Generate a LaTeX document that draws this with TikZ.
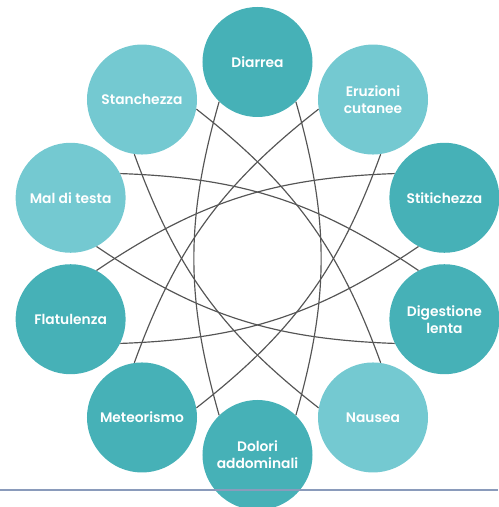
\documentclass[tikz,border=0pt]{standalone}
\usepackage{fontspec}
\setmainfont{Poppins}[UprightFont={* SemiBold}]

\definecolor{tealdark}{HTML}{46B1B7}
\definecolor{teallight}{HTML}{74C9D1}
\definecolor{arcgray}{HTML}{555555}
\definecolor{rulegray}{HTML}{8A9BBB}

\begin{document}
\begin{tikzpicture}[x=0.03cm,y=0.03cm,
        symptom/.style={circle, minimum size=3.3cm, inner sep=0pt, text=white, align=center,
            font=\fontsize{11.8}{14.5}\selectfont},
        dark/.style={symptom, fill=tealdark},
        light/.style={symptom, fill=teallight},
        lens/.style={draw=arcgray, line width=1pt}]
    \useasboundingbox (-257.5,-248.5) rectangle (240.5,258.5);

    % ten symptoms on a ring
    \node (diarrea) [dark] at (90:196.5) {Diarrea};
    \node (eruzioni) [light] at (54:196.5) {Eruzioni\\cutanee};
    \node (stitichezza) [dark] at (18:196.5) {Stitichezza};
    \node (digestione) [dark] at (-18:196.5) {Digestione\\lenta};
    \node (nausea) [light] at (-54:196.5) {Nausea};
    \node (dolori) [dark] at (-90:196.5) {Dolori\\addominali};
    \node (meteorismo) [dark] at (234:196.5) {Meteorismo};
    \node (flatulenza) [dark] at (198:196.5) {Flatulenza};
    \node (maltesta) [light] at (162:196.5) {Mal di testa};
    \node (stanchezza) [light] at (126:196.5) {Stanchezza};

    % each symptom is tied to the opposite one by two arcs
    \draw[lens] (diarrea.226) to[bend right=16] (dolori.134);
    \draw[lens] (diarrea.314) to[bend left=16] (dolori.46);
    \draw[lens] (stanchezza.262) to[bend right=16] (nausea.170);
    \draw[lens] (stanchezza.350) to[bend left=16] (nausea.82);
    \draw[lens] (maltesta.298) to[bend right=16] (digestione.206);
    \draw[lens] (maltesta.26) to[bend left=16] (digestione.118);
    \draw[lens] (flatulenza.334) to[bend right=16] (stitichezza.242);
    \draw[lens] (flatulenza.62) to[bend left=16] (stitichezza.154);
    \draw[lens] (meteorismo.10) to[bend right=16] (eruzioni.278);
    \draw[lens] (meteorismo.98) to[bend left=16] (eruzioni.190);

    % rule along the bottom
    \draw[rulegray, line width=2pt] (-257.5,-231.5) -- (240.5,-231.5);
\end{tikzpicture}
\end{document}
